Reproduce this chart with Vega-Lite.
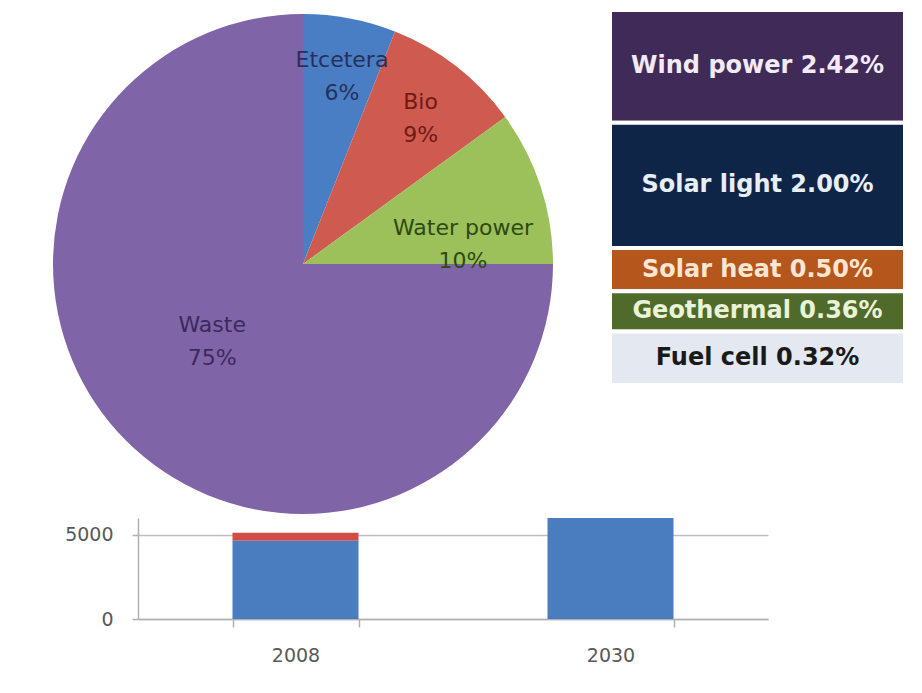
{
  "$schema": "https://vega.github.io/schema/vega-lite/v6.json",
  "padding": {"left": 53, "top": 8, "right": 0, "bottom": 0},
  "background": "white",
  "config": {"view": {"stroke": null}, "font": "DejaVu Sans"},
  "bounds": "flush",
  "spacing": 472,
  "resolve": {"scale": {"color": "independent", "theta": "independent"}},
  "hconcat": [
    {
      "bounds": "flush",
      "spacing": 0,
      "resolve": {"scale": {"color": "independent"}},
      "vconcat": [
        {
          "width": 330,
          "height": 508,
          "data": {"values": [
            {"source": "Etcetera", "share": 0.06},
            {"source": "Bio", "share": 0.09},
            {"source": "Water power", "share": 0.10},
            {"source": "Waste", "share": 0.75}
          ]},
          "transform": [
            {"stack": "share", "groupby": [], "as": ["s0", "s1"]},
            {"calculate": "(datum.s0+datum.s1)/2", "as": "mid"},
            {"calculate": "datum.source + '\\n' + format(datum.share, '.0%')", "as": "label"}
          ],
          "layer": [
            {
              "mark": {"type": "arc", "outerRadius": 250},
              "encoding": {
                "theta": {"field": "s0", "type": "quantitative", "scale": {"domain": [0, 1]}},
                "theta2": {"field": "s1"},
                "color": {"field": "source", "type": "nominal", "legend": null,
                  "scale": {"domain": ["Etcetera", "Bio", "Water power", "Waste"], "range": ["#4A7EC4", "#CF5A4F", "#9CC15A", "#8064A8"]}}
              }
            },
            {
              "transform": [{"filter": "datum.source === 'Etcetera'"}],
              "mark": {"type": "text", "radius": 208, "fontSize": 22, "lineBreak": "\n", "lineHeight": 33, "fill": "#27305A", "baseline": "middle", "align": "center"},
              "encoding": {"theta": {"field": "mid", "type": "quantitative"}, "text": {"field": "label"}}
            },
            {
              "transform": [{"filter": "datum.source === 'Bio'"}],
              "mark": {"type": "text", "radius": 200, "dx": -5, "dy": -4, "fontSize": 22, "lineBreak": "\n", "lineHeight": 33, "fill": "#6E1B17", "baseline": "middle", "align": "center"},
              "encoding": {"theta": {"field": "mid", "type": "quantitative"}, "text": {"field": "label"}}
            },
            {
              "transform": [{"filter": "datum.source === 'Water power'"}],
              "mark": {"type": "text", "radius": 164, "dx": 4, "dy": 15, "fontSize": 22, "lineBreak": "\n", "lineHeight": 33, "fill": "#2E4A12", "baseline": "middle", "align": "center"},
              "encoding": {"theta": {"field": "mid", "type": "quantitative"}, "text": {"field": "label"}}
            },
            {
              "transform": [{"filter": "datum.source === 'Waste'"}],
              "mark": {"type": "text", "radius": 110, "dx": -13, "dy": -17, "fontSize": 22, "lineBreak": "\n", "lineHeight": 33, "fill": "#3B2A5C", "baseline": "middle", "align": "center"},
              "encoding": {"theta": {"field": "mid", "type": "quantitative"}, "text": {"field": "label"}}
            }
          ]
        },
        {
          "width": 630,
          "height": 101,
          "data": {"values": [
            {"year": "2008", "part": "Base", "value": 4650},
            {"year": "2008", "part": "Renewable", "value": 470},
            {"year": "2030", "part": "Base", "value": 6000}
          ]},
          "mark": {"type": "bar"},
          "encoding": {
            "x": {"field": "year", "type": "nominal",
              "scale": {"paddingInner": 0.6, "paddingOuter": 0.3},
              "axis": {"title": null, "labelAngle": 0, "labelFontSize": 19, "labelColor": "#595959", "labelPadding": 19, "tickSize": 8, "tickBand": "extent", "tickColor": "#B0B0B0", "domainColor": "#B0B0B0", "domainWidth": 1.5, "tickWidth": 1.5}},
            "y": {"field": "value", "type": "quantitative", "stack": "zero",
              "scale": {"domain": [0, 6000], "nice": false},
              "axis": {"title": null, "values": [0, 5000], "format": "d", "labelFontSize": 19, "labelColor": "#595959", "tickSize": 6, "labelPadding": 19, "gridColor": "#BFBFBF", "gridWidth": 1.5, "domainColor": "#B0B0B0", "tickColor": "#B0B0B0", "domainWidth": 1.5, "tickWidth": 1.5}},
            "order": {"field": "part", "type": "nominal", "sort": "ascending"},
            "color": {"field": "part", "type": "nominal", "legend": null,
              "scale": {"domain": ["Base", "Renewable"], "range": ["#4A7DC0", "#CF4E45"]}}
          }
        }
      ]
    },
    {
      "width": 295,
      "height": 375,
      "data": {"values": [
        {"source": "Wind power", "share": 2.42},
        {"source": "Solar light", "share": 2.00},
        {"source": "Solar heat", "share": 0.50},
        {"source": "Geothermal", "share": 0.36},
        {"source": "Fuel cell", "share": 0.32}
      ]},
      "transform": [
        {"stack": "share", "groupby": [], "sort": [{"field": "source", "order": "ascending"}], "as": ["s0", "s1"]},
        {"calculate": "pow((max(pow(datum.s0, 0.6), pow(0.03, 0.6)) + pow(datum.s1, 0.6)) / 2, 1 / 0.6)", "as": "mid"},
        {"calculate": "datum.source + ' ' + format(datum.share, '.2f') + '%'", "as": "label"}
      ],
      "encoding": {
        "x": {"datum": "Etcetera", "type": "nominal", "axis": null, "scale": {"paddingInner": 0, "paddingOuter": 0}}
      },
      "layer": [
        {
          "mark": {"type": "bar", "stroke": "white", "strokeWidth": 4},
          "encoding": {
            "y": {"field": "s1", "type": "quantitative", "axis": null,
              "scale": {"type": "pow", "exponent": 0.6, "domain": [0.03, 5.6], "clamp": true, "nice": false}},
            "y2": {"field": "s0"},
            "color": {"field": "source", "type": "nominal", "legend": null,
              "scale": {"domain": ["Wind power", "Solar light", "Solar heat", "Geothermal", "Fuel cell"], "range": ["#402A57", "#0F2548", "#B5561D", "#4F6A2B", "#E4E8F0"]}}
          }
        },
        {
          "mark": {"type": "text", "fontSize": 24, "fontWeight": "bold", "baseline": "middle", "align": "center"},
          "encoding": {
            "y": {"field": "mid", "type": "quantitative"},
            "text": {"field": "label"},
            "color": {"field": "source", "type": "nominal", "legend": null,
              "scale": {"domain": ["Wind power", "Solar light", "Solar heat", "Geothermal", "Fuel cell"], "range": ["#F3EAF7", "#E8EEF6", "#FBE6D2", "#E8F3D8", "#1A1A1A"]}}
          }
        }
      ],
      "resolve": {"scale": {"color": "independent"}}
    }
  ]
}
